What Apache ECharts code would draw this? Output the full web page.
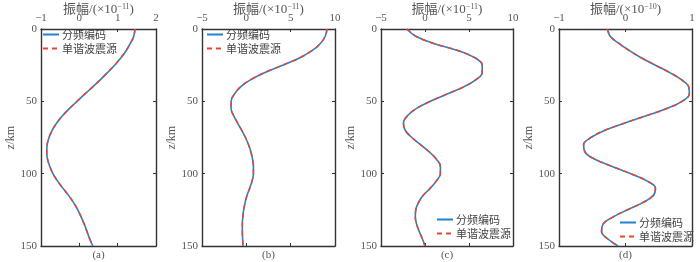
<!DOCTYPE html>
<html><head><meta charset="utf-8">
<script src="https://cdn.jsdelivr.net/npm/echarts@6/dist/echarts.min.js"></script>
<style>html,body{margin:0;padding:0;background:#fff}#c{width:700px;height:262px}</style>
</head><body><div id="c"></div>
<script>
// ---- data ----
const depths = [0,5,10,15,20,25,30,35,40,45,50,55,60,65,70,75,80,85,90,95,100,105,110,115,120,125,130,135,140,145,150];
const ampA = [1.45,1.42,1.33,1.22,1.08,0.92,0.74,0.55,0.35,0.14,-0.06,-0.26,-0.44,-0.59,-0.71,-0.79,-0.84,-0.85,-0.83,-0.77,-0.69,-0.57,-0.43,-0.28,-0.15,-0.04,0.05,0.13,0.20,0.27,0.35];
const ampB = [9.1,8.9,8.35,7.4,6.0,4.1,2.1,0.5,-0.65,-1.35,-1.72,-1.72,-1.42,-0.98,-0.52,-0.1,0.25,0.52,0.7,0.8,0.8,0.65,0.38,0.08,-0.14,-0.3,-0.4,-0.45,-0.45,-0.42,-0.38];
const ampC = [-2.05,-1.05,1.0,3.8,5.7,6.5,6.5,5.8,4.4,2.5,0.6,-1.0,-2.0,-2.45,-2.25,-1.5,-0.5,0.5,1.3,1.75,1.75,1.3,0.6,-0.2,-0.75,-1.05,-1.1,-0.95,-0.65,-0.3,0.0];
const ampD = [-0.27,-0.23,-0.1,0.06,0.24,0.45,0.66,0.84,0.95,0.96,0.85,0.62,0.31,-0.01,-0.31,-0.52,-0.63,-0.61,-0.46,-0.2,0.08,0.32,0.45,0.42,0.26,0.03,-0.19,-0.34,-0.36,-0.27,-0.11];
const panelAmps = [ampA, ampB, ampC, ampD];
const xMins = [-1, -5, -5, -1];
const xMaxs = [2, 10, 10, 1];
const xSteps = [1, 5, 5, 1];
const exponents = ['−11', '−11', '−11', '−10'];
const panelLabels = ['(a)', '(b)', '(c)', '(d)'];
const depthMin = 0, depthMax = 150, depthStep = 50;
const seriesNames = ['分频编码', '单谐波震源'];
const titleBase = '振幅/(×10';

// ---- layout / style ----
const grids = [
  {left: 41, right: 700 - 156, top: 29, bottom: 16},
  {left: 202, right: 700 - 335, top: 29, bottom: 16},
  {left: 381, right: 700 - 513, top: 29, bottom: 16},
  {left: 559, right: 700 - 692, top: 29, bottom: 16}
];
const legendPos = [
  {left: 42, top: 29},
  {left: 206, top: 29},
  {left: 436, top: 214},
  {left: 619, top: 217}
];
const AX = '#333';
const LBL = '#555';
const SERIF = '"Liberation Serif","DejaVu Serif",serif';
const CJK = '"Noto Sans CJK SC","Noto Sans",sans-serif';
const BLUE = '#2382cc';
const RED = '#ea4430';
const fmt = v => String(v).replace('-', '−');

const xAxes = [], yAxes = [], series = [], legends = [], graphics = [];
grids.forEach((g, i) => {
  const axLine = {show: true, onZero: false, lineStyle: {color: AX, width: 1.4}};
  const tick = {show: true, inside: true, length: 3, lineStyle: {color: AX, width: 1}};
  xAxes.push({
    type: 'value', gridIndex: i, position: 'top', min: xMins[i], max: xMaxs[i], interval: xSteps[i],
    axisLine: axLine, axisTick: tick, splitLine: {show: false},
    axisLabel: {margin: 5, fontSize: 11, fontFamily: SERIF, color: LBL, formatter: fmt}
  });
  xAxes.push({
    type: 'value', gridIndex: i, position: 'bottom', min: xMins[i], max: xMaxs[i], interval: xSteps[i],
    axisLine: axLine, axisTick: tick, splitLine: {show: false}, axisLabel: {show: false}
  });
  yAxes.push({
    type: 'value', gridIndex: i, position: 'left', inverse: true, min: depthMin, max: depthMax, interval: depthStep,
    axisLine: axLine, axisTick: tick, splitLine: {show: false},
    axisLabel: {margin: 4, fontSize: 11, fontFamily: SERIF, color: LBL},
    name: '{i|z}{n|/km}', nameLocation: 'middle', nameRotate: 90, nameGap: 24,
    nameTextStyle: {color: LBL, rich: {
      i: {fontStyle: 'italic', fontFamily: SERIF, fontSize: 12, color: LBL},
      n: {fontFamily: SERIF, fontSize: 12, color: LBL}
    }}
  });
  yAxes.push({
    type: 'value', gridIndex: i, position: 'right', inverse: true, min: depthMin, max: depthMax, interval: depthStep,
    axisLine: axLine, axisTick: tick, splitLine: {show: false}, axisLabel: {show: false}
  });
  const pts = depths.map((z, k) => [panelAmps[i][k], z]);
  series.push({
    name: seriesNames[0], type: 'line', xAxisIndex: 2 * i, yAxisIndex: 2 * i, data: pts,
    smooth: 0.4, symbol: 'none', lineStyle: {color: BLUE, width: 1.6}, itemStyle: {color: BLUE}, z: 2
  });
  series.push({
    name: seriesNames[1], type: 'line', xAxisIndex: 2 * i, yAxisIndex: 2 * i, data: pts,
    smooth: 0.4, symbol: 'none', lineStyle: {color: RED, width: 1.5, type: [5, 4]}, itemStyle: {color: RED}, z: 3
  });
  legends.push({
    data: seriesNames, orient: 'vertical', left: legendPos[i].left, top: legendPos[i].top,
    itemWidth: 16, itemHeight: 8, itemGap: 3, padding: 0, selectedMode: false,
    itemStyle: {opacity: 0},
    textStyle: {fontSize: 11, fontFamily: CJK, color: '#444', padding: [0, 0, 0, -2], lineHeight: 10}
  });
  const cx = (g.left + (700 - g.right)) / 2;
  graphics.push({
    type: 'text', x: cx, y: 10,
    style: {
      text: '{a|' + titleBase + '}{s|' + exponents[i] + '}{a|)}',
      align: 'center', verticalAlign: 'middle',
      rich: {
        a: {fontFamily: SERIF + ',' + CJK, fontSize: 13, fill: LBL, lineHeight: 15},
        s: {fontFamily: SERIF, fontSize: 8, fill: LBL, lineHeight: 15, verticalAlign: 'top'}
      }
    }
  });
  graphics.push({
    type: 'text', x: cx, y: 255,
    style: {text: panelLabels[i], align: 'center', verticalAlign: 'middle', fontFamily: SERIF, fontSize: 11, fill: LBL}
  });
});

const chart = echarts.init(document.getElementById('c'), null, {renderer: 'canvas'});
chart.setOption({
  animation: false,
  backgroundColor: '#fff',
  grid: grids,
  xAxis: xAxes,
  yAxis: yAxes,
  legend: legends,
  series: series,
  graphic: graphics
});
</script>
</body></html>
